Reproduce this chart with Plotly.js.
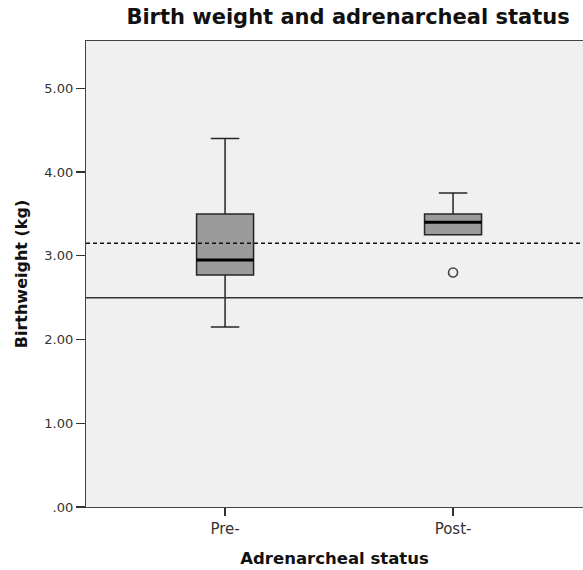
<!DOCTYPE html>
<html>
<head>
<meta charset="utf-8">
<script src="https://cdn.plot.ly/plotly-3.0.1.min.js"></script>
<style>html,body{margin:0;padding:0;background:#fff;}</style>
</head>
<body>
<div id="chart" style="width:583px;height:570px;"></div>
<script>
// Data
const categories = ["Pre-", "Post-"];
const lowerWhisker = [2.15, 3.25];
const q1Values = [2.77, 3.25];
const medianValues = [2.95, 3.40];
const q3Values = [3.50, 3.50];
const upperWhisker = [4.40, 3.75];
const outlierCategories = ["Post-"];
const outlierValues = [2.80];
const dashedRef = [3.15];
const solidRef = [2.50];
const yTickVals = [0, 1, 2, 3, 4, 5];
const yTickText = [".00", "1.00", "2.00", "3.00", "4.00", "5.00"];

const FONT = "DejaVu Sans, Verdana, sans-serif";

const boxTrace = {
  type: "box",
  x: categories,
  q1: q1Values,
  median: medianValues,
  q3: q3Values,
  lowerfence: lowerWhisker,
  upperfence: upperWhisker,
  width: 0.25,
  whiskerwidth: 0.5,
  fillcolor: "#9b9b9b",
  line: {color: "#262626", width: 1.5},
  boxpoints: false,
  hoverinfo: "skip",
  showlegend: false
};

const medianTrace = {
  type: "box",
  x: categories,
  q1: medianValues,
  median: medianValues,
  q3: medianValues,
  lowerfence: medianValues,
  upperfence: medianValues,
  width: 0.25,
  whiskerwidth: 0,
  fillcolor: "rgba(0,0,0,0)",
  line: {color: "#000000", width: 3},
  boxpoints: false,
  hoverinfo: "skip",
  showlegend: false
};

const outlierTrace = {
  type: "scatter",
  mode: "markers",
  x: outlierCategories,
  y: outlierValues,
  marker: {symbol: "circle-open", size: 9, color: "#444444", line: {width: 1.6, color: "#444444"}},
  hoverinfo: "skip",
  showlegend: false
};

const shapes = [];
dashedRef.forEach(v => shapes.push({
  type: "line", xref: "paper", x0: 0, x1: 1, yref: "y", y0: v, y1: v,
  line: {color: "#111111", width: 1.5, dash: "4px,3px"}, layer: "above"
}));
solidRef.forEach(v => shapes.push({
  type: "line", xref: "paper", x0: 0, x1: 1, yref: "y", y0: v, y1: v,
  line: {color: "#333333", width: 1.5}, layer: "above"
}));

const layout = {
  width: 583,
  height: 570,
  paper_bgcolor: "#ffffff",
  plot_bgcolor: "#f0f0f0",
  margin: {l: 86, r: 0, t: 41, b: 63},
  boxmode: "overlay",
  showlegend: false,
  font: {family: FONT, color: "#222222"},
  title: {
    text: "<b>Birth weight and adrenarcheal status</b>",
    font: {family: FONT, size: 21, color: "#111111"},
    xref: "container", yref: "container",
    x: 0.597, xanchor: "center",
    y: 0.970, yanchor: "middle"
  },
  xaxis: {
    type: "category",
    categoryorder: "array",
    categoryarray: categories,
    range: [-0.61, 1.57],
    showgrid: false,
    zeroline: false,
    showline: true,
    linecolor: "#444444",
    linewidth: 1.2,
    mirror: true,
    ticks: "outside",
    ticklen: 8,
    tickwidth: 1.2,
    tickcolor: "#333333",
    tickfont: {family: FONT, size: 15, color: "#333333"},
    title: {
      text: "<b>Adrenarcheal status</b>",
      font: {family: FONT, size: 16.5, color: "#111111"},
      standoff: 15
    }
  },
  yaxis: {
    range: [0, 5.565],
    tickmode: "array",
    tickvals: yTickVals,
    ticktext: yTickText,
    showgrid: false,
    zeroline: false,
    showline: true,
    linecolor: "#444444",
    linewidth: 1.2,
    mirror: false,
    ticks: "outside",
    ticklen: 9,
    tickwidth: 1.2,
    tickcolor: "#333333",
    tickfont: {family: FONT, size: 13, color: "#333333"},
    title: {
      text: "<b>Birthweight (kg)</b>",
      font: {family: FONT, size: 16, color: "#111111"},
      standoff: 12
    }
  },
  shapes: shapes
};

Plotly.newPlot("chart", [boxTrace, medianTrace, outlierTrace], layout, {displayModeBar: false, staticPlot: true});
</script>
</body>
</html>
